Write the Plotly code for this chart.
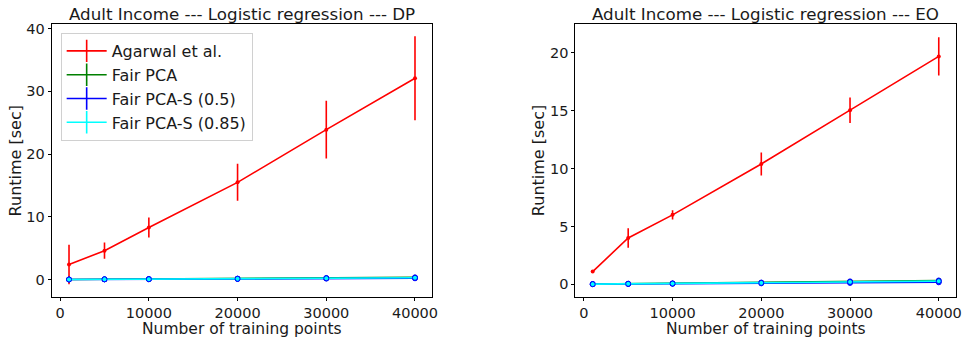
import plotly.graph_objects as go

n_points = [1000, 5000, 10000, 20000, 30000, 40000]

# DP panel
dp_agarwal = [2.4, 4.6, 8.3, 15.5, 23.9, 32.1]
dp_agarwal_err = [3.15, 1.3, 1.6, 2.95, 4.6, 6.7]
dp_fairpca = [0.02, 0.05, 0.08, 0.15, 0.25, 0.35]
dp_fairpca_err = [0.01, 0.01, 0.02, 0.03, 0.04, 0.05]
dp_fairpcas05 = [0.01, 0.03, 0.05, 0.10, 0.15, 0.20]
dp_fairpcas05_err = [0.01, 0.01, 0.01, 0.02, 0.03, 0.04]
dp_fairpcas085 = [0.01, 0.04, 0.06, 0.12, 0.20, 0.28]
dp_fairpcas085_err = [0.01, 0.01, 0.01, 0.02, 0.03, 0.04]

# EO panel
eo_agarwal = [1.1, 4.0, 6.0, 10.4, 15.05, 19.7]
eo_agarwal_err = [0.05, 0.85, 0.4, 1.0, 1.1, 1.65]
eo_fairpca = [0.02, 0.05, 0.08, 0.15, 0.25, 0.33]
eo_fairpca_err = [0.01, 0.01, 0.02, 0.03, 0.04, 0.05]
eo_fairpcas05 = [0.01, 0.03, 0.04, 0.08, 0.12, 0.17]
eo_fairpcas05_err = [0.01, 0.01, 0.01, 0.02, 0.03, 0.04]
eo_fairpcas085 = [0.01, 0.04, 0.06, 0.12, 0.20, 0.27]
eo_fairpcas085_err = [0.01, 0.01, 0.01, 0.02, 0.03, 0.04]

series_names = ["Agarwal et al.", "Fair PCA", "Fair PCA-S (0.5)", "Fair PCA-S (0.85)"]
series_colors = ["red", "green", "blue", "cyan"]

x_ticks = [0, 10000, 20000, 30000, 40000]
x_tick_labels = ["0", "10000", "20000", "30000", "40000"]
dp_y_ticks = [0, 10, 20, 30, 40]
eo_y_ticks = [0, 5, 10, 15, 20]

titles = ["Adult Income --- Logistic regression --- DP",
          "Adult Income --- Logistic regression --- EO"]
x_title = "Number of training points"
y_title = "Runtime [sec]"

FONT = "DejaVu Sans"
TXT = "#1a1a1a"
fig = go.Figure()

def add_series(xaxis, yaxis, ys, errs):
    for i, (y, e) in enumerate(zip(ys, errs)):
        color = series_colors[i]
        if i == 0:
            marker = dict(size=4, color=color, symbol="circle")
        else:
            marker = dict(size=5, color=color, symbol="circle",
                          line=dict(color="blue", width=1))
        fig.add_trace(go.Scatter(
            x=n_points, y=y, mode="lines+markers", name=series_names[i],
            line=dict(color=color, width=1.6), marker=marker,
            error_y=dict(type="data", array=e, visible=True, color=color,
                         thickness=1.6, width=0),
            xaxis=xaxis, yaxis=yaxis, showlegend=False))

add_series("x", "y", [dp_agarwal, dp_fairpca, dp_fairpcas05, dp_fairpcas085],
           [dp_agarwal_err, dp_fairpca_err, dp_fairpcas05_err, dp_fairpcas085_err])
add_series("x2", "y2", [eo_agarwal, eo_fairpca, eo_fairpcas05, eo_fairpcas085],
           [eo_agarwal_err, eo_fairpca_err, eo_fairpcas05_err, eo_fairpcas085_err])

# legend entries (errorbar-like cross glyph)
for name, color in zip(series_names, series_colors):
    fig.add_trace(go.Scatter(
        x=[None], y=[None], mode="lines+markers", name=name,
        line=dict(color=color, width=1.6),
        marker=dict(symbol="line-ns", size=16, color=color,
                    line=dict(color=color, width=1.6)),
        xaxis="x", yaxis="y", showlegend=True))

axis_common = dict(showline=True, linecolor="black", linewidth=1, mirror=True,
                   ticks="outside", ticklen=3, tickcolor="black", showgrid=False,
                   zeroline=False, tickfont=dict(family=FONT, size=14.5, color=TXT))

L_DOM = [0.0537, 0.4489]
R_DOM = [0.5975, 0.9928]
TOP, BOTTOM = 24, 42
PLOT_H = 339 - TOP - BOTTOM
AX_BOTTOM = 339 - BOTTOM

fig.update_layout(
    width=969, height=339,
    margin=dict(l=0, r=0, t=TOP, b=BOTTOM),
    paper_bgcolor="white", plot_bgcolor="white",
    font=dict(family=FONT, size=15, color=TXT),
    xaxis=dict(domain=L_DOM, range=[-950, 41950], tickvals=x_ticks,
               ticktext=x_tick_labels, **axis_common),
    yaxis=dict(domain=[0, 1], range=[-2.78, 40.75], tickvals=dp_y_ticks,
               **axis_common),
    xaxis2=dict(domain=R_DOM, range=[-950, 41950], tickvals=x_ticks,
                ticktext=x_tick_labels, anchor="y2", **axis_common),
    yaxis2=dict(domain=[0, 1], range=[-1.1, 22.5], tickvals=eo_y_ticks, anchor="x2",
                **axis_common),
    legend=dict(x=0.063, y=1 - (33 - TOP) / PLOT_H, xanchor="left", yanchor="top",
                bgcolor="rgba(255,255,255,0.8)", bordercolor="#d0d0d0",
                borderwidth=1, font=dict(family=FONT, size=16, color=TXT),
                itemwidth=40, tracegroupgap=0),
)

annots = []
for dom, t, ylab_x in [(L_DOM, titles[0], 16 / 969), (R_DOM, titles[1], 542 / 969)]:
    cx = (dom[0] + dom[1]) / 2
    annots.append(dict(text=t, xref="paper", yref="paper", x=cx,
                       y=(AX_BOTTOM - 14) / PLOT_H,
                       xanchor="center", yanchor="middle", showarrow=False,
                       font=dict(family=FONT, size=16.7, color=TXT)))
    annots.append(dict(text=x_title, xref="paper", yref="paper", x=cx,
                       y=(AX_BOTTOM - 339) / PLOT_H, xanchor="center", yanchor="bottom",
                       showarrow=False, borderpad=0,
                       font=dict(family=FONT, size=15.5, color=TXT)))
    annots.append(dict(text=y_title, xref="paper", yref="paper", x=ylab_x, y=0.5,
                       xanchor="center", yanchor="middle", textangle=-90,
                       showarrow=False, font=dict(family=FONT, size=16, color=TXT)))
fig.update_layout(annotations=annots)

fig.write_html("out.html", config={"displayModeBar": False},
               post_script="document.body.style.margin='0';document.body.style.overflow='hidden';")
